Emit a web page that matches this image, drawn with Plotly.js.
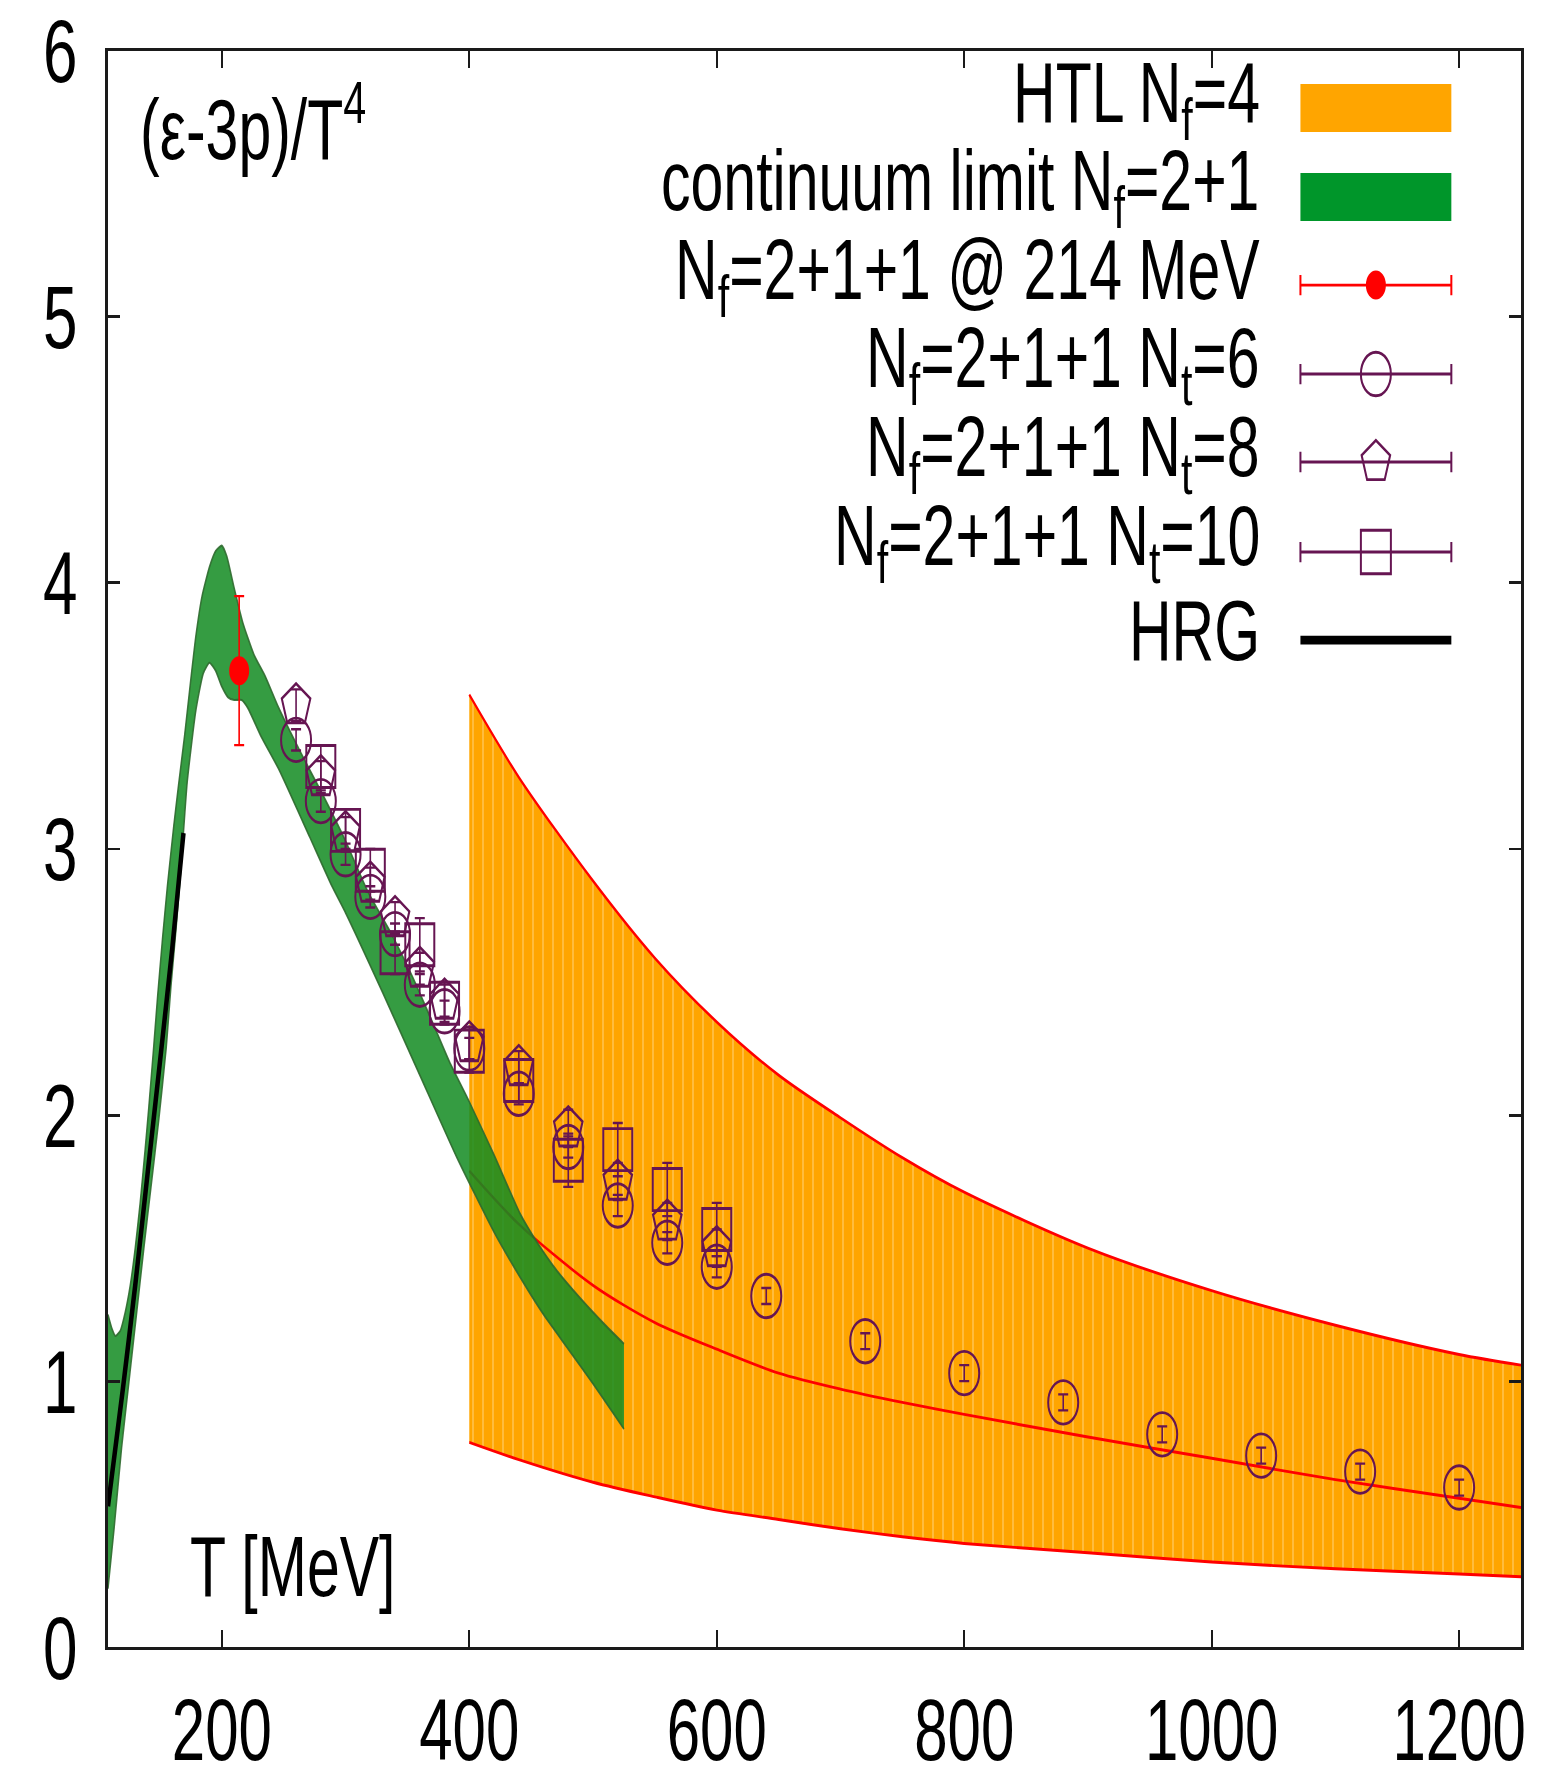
<!DOCTYPE html>
<html>
<head>
<meta charset="utf-8">
<script src="https://cdn.plot.ly/plotly-3.0.1.min.js"></script>
<style>
  html, body { margin: 0; padding: 0; background: #ffffff; overflow: hidden; }
  #wrap { width: 1551px; height: 1779px; overflow: hidden; position: relative; }
  /* the figure is laid out at 1227 px and stretched vertically to fill the page */
  #chart { width: 1551px; height: 1227px; transform: scaleY(1.45); transform-origin: 0 0; }
</style>
</head>
<body>
<div id="wrap"><div id="chart"></div></div>
<script>
// ---------- HTL N_f=4 band (upper / central / lower) ----------
const T_htl      = [400, 440, 500, 550, 600, 650, 700, 750, 800, 900, 1000, 1100, 1200, 1250];
const htl_upper  = [3.58, 3.27, 2.88, 2.59, 2.35, 2.15, 1.99, 1.84, 1.71, 1.50, 1.34, 1.21, 1.10, 1.06];
const htl_middle = [1.79, 1.59, 1.36, 1.22, 1.12, 1.03, 0.97, 0.92, 0.875, 0.79, 0.71, 0.63, 0.56, 0.525];
const htl_lower  = [0.77, 0.705, 0.62, 0.565, 0.515, 0.48, 0.445, 0.415, 0.39, 0.355, 0.32, 0.295, 0.275, 0.265];

// ---------- continuum limit N_f=2+1 band ----------
const T_cont_up  = [108, 111, 114, 118, 122, 126, 130, 134, 138, 141,
                    145, 148, 152, 156, 161, 165, 170, 175, 179, 184,
                    190, 195, 200, 204, 210, 217, 226, 235, 246, 264,
                    282, 300, 318, 336, 354, 372, 384, 400, 420, 441,
                    455, 470, 490, 510, 525];
const cont_upper = [1.25, 1.20, 1.17, 1.19, 1.26, 1.36, 1.50, 1.67, 1.87, 2.03,
                    2.26, 2.44, 2.66, 2.86, 3.08, 3.24, 3.43, 3.64, 3.80, 3.95,
                    4.06, 4.12, 4.14, 4.10, 3.98, 3.85, 3.73, 3.65, 3.53, 3.36,
                    3.20, 3.03, 2.84, 2.69, 2.52, 2.33, 2.20, 2.05, 1.85, 1.63,
                    1.52, 1.42, 1.31, 1.21, 1.14];
const T_cont_lo  = [108, 113, 119, 125, 131, 137, 143, 149, 155, 159,
                    163, 167, 172, 179, 185, 190, 195, 200, 205, 210,
                    216, 221, 232, 246, 271, 289, 300, 330, 360, 390,
                    420, 445, 460, 480, 500, 525];
const cont_lower = [0.22, 0.45, 0.75, 1.00, 1.25, 1.50, 1.74, 1.98, 2.25, 2.49,
                    2.70, 2.93, 3.25, 3.52, 3.66, 3.70, 3.67, 3.61, 3.57, 3.56,
                    3.56, 3.53, 3.42, 3.30, 3.045, 2.86, 2.76, 2.46, 2.15, 1.84,
                    1.56, 1.36, 1.25, 1.12, 0.99, 0.82];

// ---------- hadron resonance gas ----------
const T_hrg = [108, 120, 130, 140, 150, 160, 169];
const hrg   = [0.53, 0.97, 1.36, 1.78, 2.20, 2.63, 3.06];

// ---------- N_f=2+1+1 @ 214 MeV ----------
const T_214   = [214];
const val_214 = [3.67];
const err_214 = [0.28];

// ---------- N_f=2+1+1 lattice data ----------
const T_nt6 = [260, 280, 300, 320, 340, 360, 380, 400, 440, 480, 520, 560, 600, 640, 720, 800, 880, 960, 1040, 1120, 1200];
const y_nt6 = [3.41, 3.18, 2.98, 2.82, 2.68, 2.49, 2.39, 2.25, 2.08, 1.88, 1.66, 1.52, 1.43, 1.32, 1.15, 1.03, 0.92, 0.80, 0.72, 0.66, 0.60];
const e_nt6 = [0.04, 0.04, 0.04, 0.04, 0.04, 0.04, 0.04, 0.04, 0.04, 0.04, 0.04, 0.04, 0.04, 0.03, 0.03, 0.03, 0.03, 0.03, 0.03, 0.03, 0.03];

const T_nt8 = [260, 280, 300, 320, 340, 360, 380, 400, 440, 480, 520, 560, 600];
const y_nt8 = [3.54, 3.27, 3.06, 2.87, 2.74, 2.55, 2.43, 2.27, 2.18, 1.95, 1.75, 1.60, 1.50];
const e_nt8 = [0.06, 0.06, 0.06, 0.06, 0.06, 0.06, 0.06, 0.06, 0.06, 0.07, 0.07, 0.07, 0.07];

const T_nt10 = [280, 300, 320, 340, 360, 380, 400, 440, 480, 520, 560, 600];
const y_nt10 = [3.31, 3.07, 2.92, 2.61, 2.64, 2.42, 2.24, 2.13, 1.83, 1.87, 1.72, 1.57];
const e_nt10 = [0.08, 0.08, 0.08, 0.08, 0.10, 0.08, 0.08, 0.08, 0.10, 0.10, 0.10, 0.10];

// ---------- axis ticks ----------
const xTicks = [200, 400, 600, 800, 1000, 1200];
const yTicks = [0, 1, 2, 3, 4, 5, 6];

// ---------- key entries ----------
const keyLabels = [
  'HTL N<sub>f</sub>=4',
  'continuum limit N<sub>f</sub>=2+1',
  'N<sub>f</sub>=2+1+1 @ 214 MeV',
  'N<sub>f</sub>=2+1+1 N<sub>t</sub>=6',
  'N<sub>f</sub>=2+1+1 N<sub>t</sub>=8',
  'N<sub>f</sub>=2+1+1 N<sub>t</sub>=10',
  'HRG'
];

// ---------- styling ----------
const FONT = 'Liberation Sans, Arial, Helvetica, sans-serif';
const PURPLE = '#661552';
const RED = '#ff0000';
const ORANGE = '#FFA500';
const GREEN_KEY = '#00962a';

// key geometry (paper units)
const keyRows = [0.9641, 0.9084, 0.8532, 0.7975, 0.7424, 0.6860, 0.6308];
const keyTextX = 0.8167;
const keySample = { x0: 0.8439, x1: 0.9507 };
const keyMid = (keySample.x0 + keySample.x1) / 2;
const keyHalf = (keySample.x1 - keySample.x0) / 2;
const textShift = 0.0063;

const traces = [];

// HTL band
traces.push({ x: T_htl, y: htl_lower, mode: 'lines', line: { color: RED, width: 2, shape: 'spline', smoothing: 0.8 }, hoverinfo: 'skip' });
traces.push({ x: T_htl, y: htl_upper, mode: 'lines', fill: 'tonexty',
  fillcolor: ORANGE,
  fillpattern: { shape: '|', bgcolor: ORANGE, fgcolor: '#ffd27a', fgopacity: 0.85, size: 10, solidity: 0.12 },
  line: { color: RED, width: 2, shape: 'spline', smoothing: 0.8 }, hoverinfo: 'skip' });
traces.push({ x: T_htl, y: htl_middle, mode: 'lines', line: { color: RED, width: 2, shape: 'spline', smoothing: 0.8 }, hoverinfo: 'skip' });

// continuum band
traces.push({ x: T_cont_lo, y: cont_lower, mode: 'lines', line: { color: 'rgba(45,105,45,0.9)', width: 1.5, shape: 'spline', smoothing: 0.5 }, hoverinfo: 'skip' });
traces.push({ x: T_cont_up, y: cont_upper, mode: 'lines', fill: 'tonexty', fillcolor: 'rgba(20,140,35,0.86)',
  line: { color: 'rgba(45,105,45,0.9)', width: 1.5, shape: 'spline', smoothing: 0.5 }, hoverinfo: 'skip' });

// HRG
traces.push({ x: T_hrg, y: hrg, mode: 'lines', line: { color: '#000000', width: 4.5, shape: 'spline', smoothing: 0.6 }, hoverinfo: 'skip' });

// lattice data
function latt(x, y, e, symbol, size) {
  return { x: x, y: y, mode: 'markers',
    error_y: { type: 'data', array: e, visible: true, color: PURPLE, thickness: 1.6, width: 5 },
    marker: { symbol: symbol, size: size, color: PURPLE, line: { color: PURPLE, width: 2 } },
    hoverinfo: 'skip' };
}
traces.push(latt(T_nt6, y_nt6, e_nt6, 'circle-open', 30));
traces.push(latt(T_nt8, y_nt8, e_nt8, 'pentagon-open', 30));
traces.push(latt(T_nt10, y_nt10, e_nt10, 'square-open', 29));

// 214 MeV point
traces.push({ x: T_214, y: val_214, mode: 'markers',
  error_y: { type: 'data', array: err_214, visible: true, color: RED, thickness: 1.6, width: 5 },
  marker: { symbol: 'circle', size: 20, color: RED }, hoverinfo: 'skip' });

// key samples on an overlay unit axis
function keyPoint(row, color, symbol, size) {
  return { x: [keyMid], y: [keyRows[row]], xaxis: 'x2', yaxis: 'y2', mode: 'markers',
    error_x: { type: 'constant', value: keyHalf, visible: true, color: color, thickness: 2, width: 7 },
    marker: symbol === 'circle'
      ? { symbol: 'circle', size: size, color: color }
      : { symbol: symbol, size: size, color: color, line: { color: color, width: 2 } },
    hoverinfo: 'skip', cliponaxis: false };
}
traces.push(keyPoint(2, RED, 'circle', 20));
traces.push(keyPoint(3, PURPLE, 'circle-open', 30));
traces.push(keyPoint(4, PURPLE, 'pentagon-open', 30));
traces.push(keyPoint(5, PURPLE, 'square-open', 30));

const annotations = keyLabels.map((t, i) => ({
  text: t, xref: 'paper', yref: 'paper', x: keyTextX, y: keyRows[i] + textShift,
  xanchor: 'right', yanchor: 'middle', showarrow: false,
  font: { family: FONT, size: 59, color: '#000000' }
}));
annotations.push({ text: '(ε-3p)/T<sup>4</sup>', xref: 'paper', yref: 'paper', x: 0.0212, y: 0.954,
  xanchor: 'left', yanchor: 'middle', showarrow: false, font: { family: FONT, size: 59, color: '#000000' } });
annotations.push({ text: 'T [MeV]', xref: 'paper', yref: 'paper', x: 0.0566, y: 0.050,
  xanchor: 'left', yanchor: 'middle', showarrow: false, font: { family: FONT, size: 59, color: '#000000' } });

const shapes = [
  { type: 'rect', xref: 'paper', yref: 'paper', x0: keySample.x0, x1: keySample.x1,
    y0: keyRows[0] - 0.015, y1: keyRows[0] + 0.015, fillcolor: ORANGE, line: { width: 0 } },
  { type: 'rect', xref: 'paper', yref: 'paper', x0: keySample.x0, x1: keySample.x1,
    y0: keyRows[1] - 0.015, y1: keyRows[1] + 0.015, fillcolor: GREEN_KEY, line: { width: 0 } },
  { type: 'line', xref: 'paper', yref: 'paper', x0: keySample.x0, x1: keySample.x1,
    y0: keyRows[6], y1: keyRows[6], line: { color: '#000000', width: 6 } }
];

const axisCommon = {
  showgrid: false, zeroline: false, showline: true, linecolor: '#1a1a1a',
  ticks: 'inside', tickcolor: '#1a1a1a', tickwidth: 2, mirror: 'ticks'
};

const layout = {
  width: 1551, height: 1227,
  margin: { l: 108, r: 30, t: 35, b: 91 },
  paper_bgcolor: '#ffffff', plot_bgcolor: '#ffffff',
  showlegend: false,
  xaxis: Object.assign({}, axisCommon, { range: [108, 1250], tickmode: 'array', tickvals: xTicks,
    ticklen: 12, linewidth: 2, ticklabelstandoff: 4,
    tickfont: { family: FONT, size: 60, color: '#000000' } }),
  yaxis: Object.assign({}, axisCommon, { range: [0, 6], tickmode: 'array', tickvals: yTicks,
    ticklen: 12, linewidth: 3, ticklabelstandoff: 15,
    tickfont: { family: FONT, size: 62, color: '#000000' } }),
  xaxis2: { overlaying: 'x', range: [0, 1], visible: false, fixedrange: true },
  yaxis2: { overlaying: 'y', range: [0, 1], visible: false, fixedrange: true },
  annotations: annotations,
  shapes: shapes
};

Plotly.newPlot('chart', traces, layout, { staticPlot: true, displayModeBar: false });
</script>
</body>
</html>
